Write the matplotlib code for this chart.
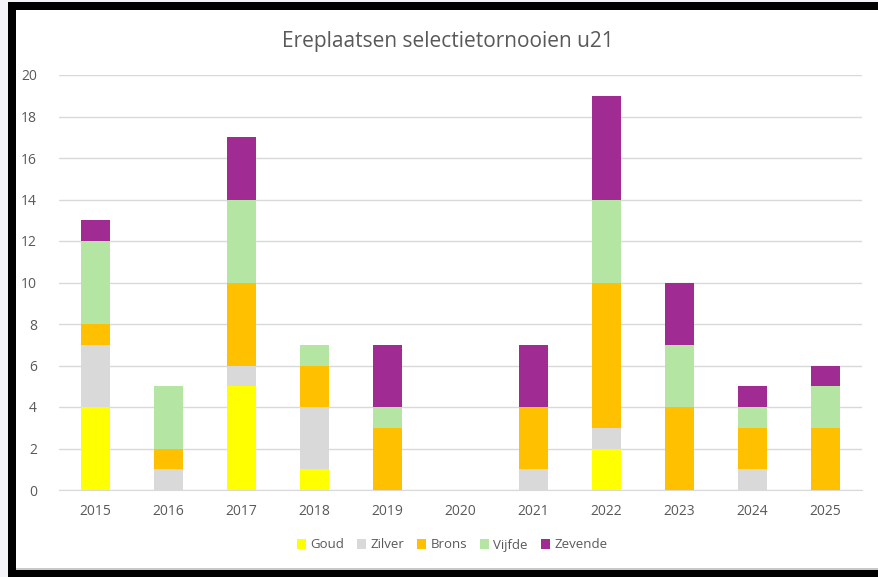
import matplotlib
matplotlib.use("Agg")
import matplotlib.pyplot as plt
from matplotlib.patches import Rectangle
import numpy as np

years = ["2015", "2016", "2017", "2018", "2019", "2020", "2021", "2022", "2023", "2024", "2025"]
goud = [4, 0, 5, 1, 0, 0, 0, 2, 0, 0, 0]
zilver = [3, 1, 1, 3, 0, 0, 1, 1, 0, 1, 0]
brons = [1, 1, 4, 2, 3, 0, 3, 7, 4, 2, 3]
vijfde = [4, 3, 4, 1, 1, 0, 0, 4, 3, 1, 2]
zevende = [1, 0, 3, 0, 3, 0, 3, 5, 3, 1, 1]
series_names = ["Goud", "Zilver", "Brons", "Vijfde", "Zevende"]
colors = ["#FFFF00", "#D9D9D9", "#FFC000", "#B4E5A2", "#A02B93"]
title = "Ereplaatsen selectietornooien u21"

plt.rcParams['font.family'] = ['Open Sans', 'DejaVu Sans']
W, H = 879, 577
fig = plt.figure(figsize=(W / 100, H / 100), dpi=100)
fig.patch.set_facecolor("white")

def px_rect(x0, y0, x1, y1, color):
    fig.patches.append(Rectangle((x0 / W, 1 - y1 / H), (x1 - x0) / W, (y1 - y0) / H,
                                 transform=fig.transFigure, color=color, zorder=0, lw=0))

# frame
px_rect(0, 0, 8, H, "#F4F4F8")
px_rect(0, 0, W, 2, "#F4F4F8")
px_rect(8, 2, 16, H, "black")
px_rect(8, 2, W, 10, "black")
px_rect(8, 570, W, H, "black")
px_rect(16, 568, W, 570, "#C8C8C8")

ax = fig.add_axes([59 / W, 1 - 490 / H, (862 - 59) / W, (490 - 75) / H])
x = np.arange(len(years))
bottom = np.zeros(len(years))
data = [goud, zilver, brons, vijfde, zevende]
for name, vals, c in zip(series_names, data, colors):
    ax.bar(x, vals, bottom=bottom, color=c, width=0.4, label=name, zorder=3)
    bottom += np.array(vals)

ax.set_xlim(-0.5, len(years) - 0.5)
ax.set_ylim(0, 20)
ax.set_yticks(range(0, 21, 2))
ax.set_xticks(x)
ax.set_xticklabels(years)
ax.grid(axis="y", color="#D9D9D9", lw=1, zorder=0)
for s in ["top", "right", "left"]:
    ax.spines[s].set_visible(False)
ax.spines["bottom"].set_color("#D9D9D9")
ax.tick_params(axis="both", length=0, colors="#595959", labelsize=10)
ax.tick_params(axis="x", pad=10)
ax.tick_params(axis="y", pad=16)

fig.text(448 / W, 1 - 42 / H, title, ha="center", va="center", fontsize=15, color="#595959")

leg = fig.legend(loc="center", bbox_to_anchor=(452 / W, 1 - 545 / H), ncol=5, frameon=False,
                 fontsize=9.5, handlelength=0.7, handleheight=0.7, handletextpad=0.3,
                 columnspacing=1.0, labelcolor="#595959")

fig.savefig("out.png", dpi=100)
